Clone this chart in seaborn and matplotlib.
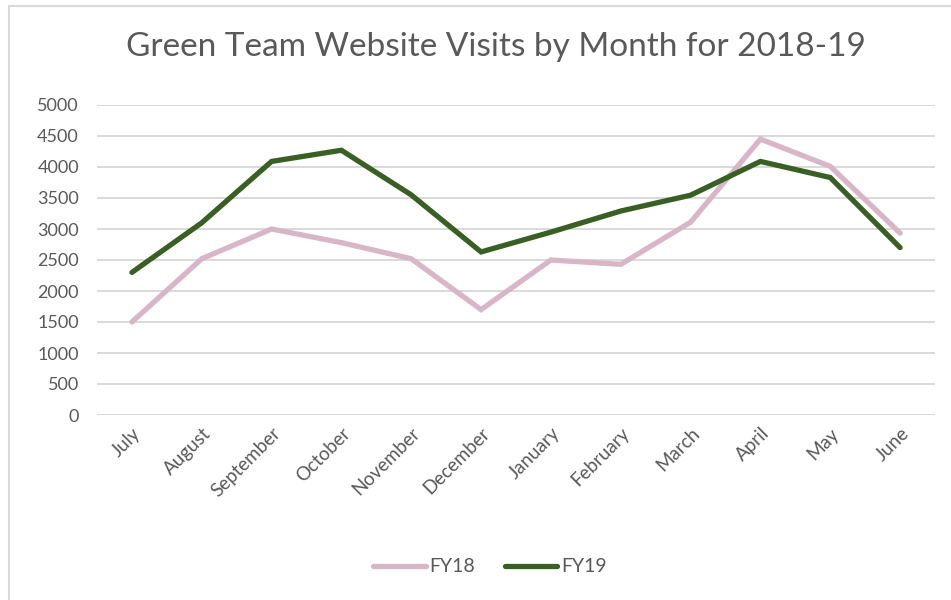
import matplotlib
matplotlib.use("Agg")
import matplotlib.pyplot as plt
import seaborn as sns
import pandas as pd
from matplotlib.patches import Rectangle

# データ
months = ["July", "August", "September", "October", "November", "December",
          "January", "February", "March", "April", "May", "June"]
fy18 = [1500, 2520, 3000, 2780, 2520, 1700, 2500, 2430, 3110, 4450, 4010, 2935]
fy19 = [2300, 3100, 4090, 4270, 3550, 2630, 2950, 3290, 3545, 4090, 3830, 2700]
series_names = ["FY18", "FY19"]
y_ticks = list(range(0, 5001, 500))

df = pd.DataFrame({"month": months * 2,
                   "visits": fy18 + fy19,
                   "series": [series_names[0]] * 12 + [series_names[1]] * 12})

sns.set_theme(style="white")
plt.rcParams["font.family"] = ["Lato", "DejaVu Sans"]
text_color = "#595959"
grid_color = "#D9D9D9"
palette = {"FY18": "#D8B6C8", "FY19": "#3A5F24"}

fig = plt.figure(figsize=(9.51, 6), dpi=100)
ax = fig.add_axes([97 / 951, 1 - 415 / 600, (935 - 97) / 951, (415 - 105) / 600])

sns.lineplot(data=df, x="month", y="visits", hue="series", palette=palette,
             linewidth=3.8, sort=False, ax=ax, legend=True)
for line in ax.get_lines():
    line.set_solid_capstyle("round")
    line.set_solid_joinstyle("miter")

ax.set_xlim(-0.5, 11.5)
ax.set_ylim(0, 5000)
ax.set_yticks(y_ticks)
ax.yaxis.grid(True, color=grid_color, linewidth=1.4)
ax.set_axisbelow(True)
for s in ["top", "right", "left", "bottom"]:
    ax.spines[s].set_visible(False)
ax.tick_params(axis="both", length=0, colors=text_color)
ax.tick_params(axis="y", pad=13, labelsize=13)
ax.tick_params(axis="x", pad=7, labelsize=13.5)
plt.setp(ax.get_xticklabels(), rotation=45, ha="right", rotation_mode="anchor")
ax.set_xlabel("")
ax.set_ylabel("")

fig.text(496 / 951, 1 - 47 / 600, "Green Team Website Visits by Month for 2018-19",
         ha="center", va="center", fontsize=24, color=text_color)

leg = ax.legend(loc="center", bbox_to_anchor=(490 / 951, 1 - 567 / 600),
                bbox_transform=fig.transFigure, ncol=2, frameon=False,
                fontsize=14, handlelength=2.7, columnspacing=1.5, handletextpad=0.2)
for t in leg.get_texts():
    t.set_color(text_color)
for h in leg.get_lines():
    h.set_linewidth(3.8)
    h.set_solid_capstyle("round")

# 外枠
fig.patches.append(Rectangle((8.5 / 951, -0.1), 1.2, 1 - 5.5 / 600 + 0.1,
                             transform=fig.transFigure, fill=False,
                             edgecolor=grid_color, linewidth=1.5))

fig.savefig("out.png", dpi=100)
